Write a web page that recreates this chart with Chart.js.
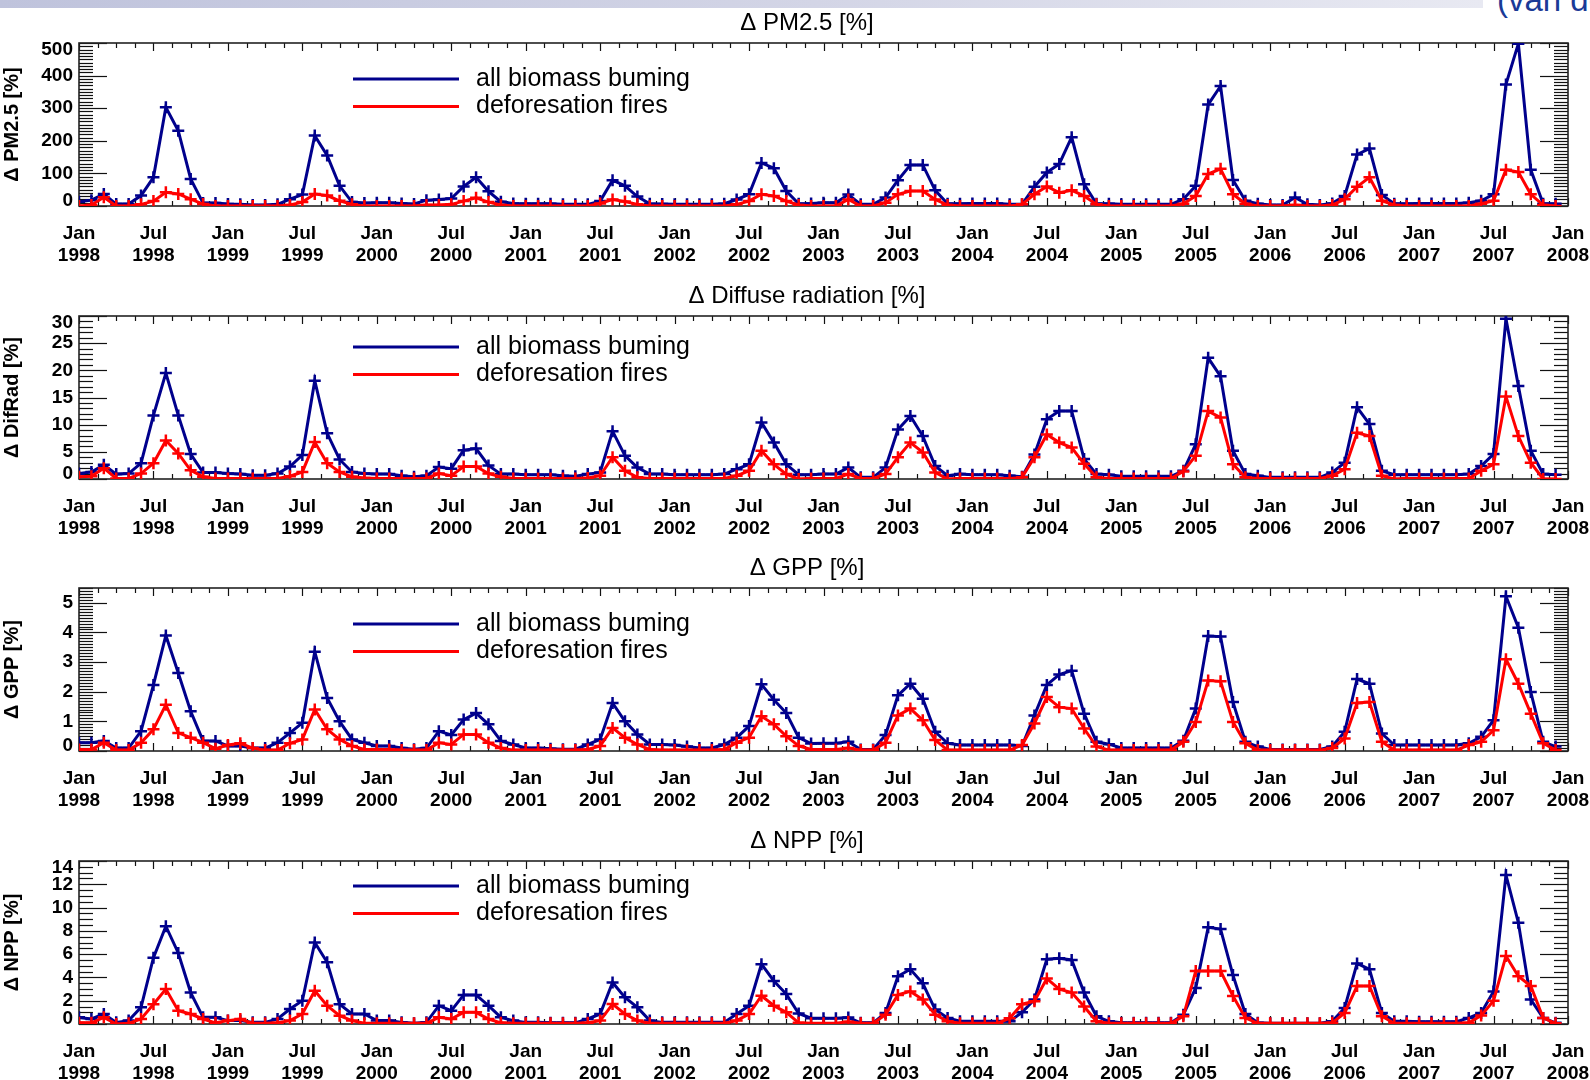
<!DOCTYPE html>
<html>
<head>
<meta charset="utf-8">
<script src="https://cdn.jsdelivr.net/npm/chart.js@4.4.1/dist/chart.umd.min.js"></script>
<style>
  html, body { margin: 0; padding: 0; background: #fff; width: 1590px; height: 1080px; overflow: hidden; }
  .topbar { position: absolute; left: 0; top: 0; width: 1483px; height: 8px;
            background: linear-gradient(to right, #bfc3dc, #d3d5e6 55%, #e8e9f2); }
  .cite { position: absolute; left: 1497px; top: -19px; font: 33px "Liberation Sans", Arial, sans-serif;
          color: #1a3a96; white-space: nowrap; }
  canvas { position: absolute; left: 0; }
</style>
</head>
<body>
<div class="topbar"></div>
<div class="cite">(van der Werf et al.)</div>
<canvas id="pm25" width="1590" height="273" style="top:0px"></canvas>
<canvas id="difrad" width="1590" height="273" style="top:273px"></canvas>
<canvas id="gpp" width="1590" height="273" style="top:545px"></canvas>
<canvas id="npp" width="1590" height="273" style="top:818px"></canvas>
<script>
// monthly values, Jan 1998 .. Dec 2007 (one row per year)
const firstYear = 1998;
const tickMonthNames = ['Jan', 'Jul'];
const seriesNames = ['all biomass buming', 'deforesation fires'];

const pm25All = [
  13, 18, 37, 6, 6, 32, 88, 303, 231, 83, 9, 9,
  6, 5, 3, 3, 5, 21, 35, 216, 155, 62, 12, 9,
  10, 10, 8, 6, 18, 20, 23, 60, 88, 45, 13, 8,
  7, 7, 7, 5, 5, 5, 15, 79, 62, 29, 7, 6,
  5, 5, 5, 5, 7, 20, 36, 132, 116, 46, 7, 8,
  10, 10, 35, 5, 5, 26, 79, 126, 126, 48, 7, 7,
  8, 8, 8, 5, 5, 59, 103, 129, 211, 67, 7, 7,
  5, 5, 5, 5, 5, 21, 62, 311, 368, 80, 16, 7,
  3, 3, 26, 5, 3, 8, 31, 158, 176, 34, 7, 7,
  8, 8, 8, 8, 10, 16, 36, 373, 498, 111, 7, 7
];
const pm25Defor = [
  0, 3, 27, 0, 0, 5, 15, 42, 37, 21, 6, 0,
  0, 0, 0, 0, 0, 3, 12, 37, 32, 16, 5, 0,
  0, 0, 0, 0, 3, 3, 5, 15, 25, 12, 3, 0,
  0, 0, 0, 0, 0, 0, 8, 20, 14, 5, 0, 0,
  0, 0, 0, 0, 0, 5, 15, 36, 31, 15, 3, 0,
  0, 0, 20, 0, 0, 10, 36, 46, 46, 20, 3, 0,
  0, 0, 0, 0, 5, 36, 60, 41, 48, 31, 5, 0,
  0, 0, 0, 0, 0, 7, 31, 98, 114, 36, 7, 0,
  0, 0, 3, 0, 0, 3, 21, 59, 88, 16, 3, 0,
  0, 0, 0, 0, 0, 7, 16, 111, 104, 36, 3, 0
];

const difRadAll = [
  1.0, 1.3, 2.6, 0.9, 1.0, 2.9, 11.7, 19.5, 11.7, 4.6, 1.2, 1.2,
  1.0, 0.9, 0.7, 0.7, 1.0, 2.3, 4.4, 18.1, 8.4, 3.6, 1.3, 1.0,
  0.9, 0.9, 0.6, 0.4, 0.6, 2.2, 1.9, 5.3, 5.6, 2.5, 0.9, 0.9,
  0.8, 0.8, 0.8, 0.6, 0.5, 0.9, 1.2, 8.8, 4.3, 2.1, 0.9, 0.9,
  0.8, 0.8, 0.8, 0.8, 0.9, 1.8, 2.7, 10.4, 6.7, 2.7, 0.8, 0.8,
  0.9, 0.9, 2.1, 0.3, 0.3, 2.1, 9.1, 11.6, 7.9, 2.4, 0.6, 0.9,
  0.8, 0.8, 0.8, 0.6, 0.4, 4.5, 11.0, 12.5, 12.5, 3.7, 0.9, 0.8,
  0.5, 0.5, 0.5, 0.5, 0.5, 1.5, 6.4, 22.3, 18.9, 5.2, 0.9, 0.6,
  0.3, 0.3, 0.3, 0.3, 0.3, 1.2, 3.0, 13.2, 10.1, 1.5, 0.8, 0.8,
  0.8, 0.8, 0.8, 0.8, 0.9, 2.4, 4.6, 29.5, 17.1, 5.2, 0.9, 0.8
];
const difRadDefor = [
  0.4, 0.5, 2.0, 0.1, 0.1, 1.0, 2.9, 7.1, 4.7, 1.6, 0.4, 0.1,
  0.1, 0.1, 0.1, 0.1, 0.1, 0.5, 1.3, 6.8, 2.9, 1.3, 0.4, 0.2,
  0.1, 0.1, 0.1, 0.1, 0.1, 1.0, 0.6, 2.3, 2.3, 1.0, 0.4, 0.1,
  0.1, 0.1, 0.1, 0.1, 0.1, 0.2, 0.6, 4.0, 1.5, 0.3, 0.1, 0.1,
  0.1, 0.1, 0.1, 0.1, 0.1, 0.6, 1.5, 5.2, 2.7, 0.9, 0.0, 0.1,
  0.1, 0.1, 0.9, 0.1, 0.1, 0.9, 4.0, 6.7, 4.9, 1.2, 0.0, 0.1,
  0.1, 0.1, 0.1, 0.1, 0.3, 4.0, 8.2, 6.7, 5.8, 2.8, 0.3, 0.1,
  0.1, 0.1, 0.1, 0.1, 0.1, 1.4, 4.3, 12.5, 11.3, 2.7, 0.3, 0.1,
  0.1, 0.1, 0.1, 0.1, 0.1, 0.6, 1.8, 8.5, 7.9, 0.6, 0.0, 0.1,
  0.1, 0.1, 0.1, 0.1, 0.1, 1.5, 2.7, 15.2, 7.9, 3.0, 0.0, 0.0
];

const gppAll = [
  0.28, 0.28, 0.34, 0.10, 0.10, 0.67, 2.23, 3.90, 2.63, 1.34, 0.34, 0.34,
  0.17, 0.17, 0.10, 0.10, 0.28, 0.61, 0.95, 3.35, 1.79, 1.00, 0.39, 0.28,
  0.17, 0.17, 0.10, 0.06, 0.10, 0.67, 0.54, 1.06, 1.28, 0.90, 0.34, 0.22,
  0.10, 0.10, 0.08, 0.06, 0.06, 0.22, 0.39, 1.62, 1.00, 0.56, 0.22, 0.22,
  0.20, 0.15, 0.10, 0.10, 0.22, 0.45, 0.84, 2.25, 1.73, 1.28, 0.45, 0.25,
  0.26, 0.26, 0.31, 0.05, 0.05, 0.54, 1.88, 2.27, 1.76, 0.65, 0.26, 0.20,
  0.20, 0.20, 0.20, 0.20, 0.17, 1.20, 2.23, 2.58, 2.71, 1.26, 0.31, 0.23,
  0.10, 0.10, 0.10, 0.10, 0.10, 0.35, 1.43, 3.88, 3.86, 1.65, 0.31, 0.15,
  0.05, 0.05, 0.05, 0.05, 0.05, 0.15, 0.65, 2.43, 2.27, 0.59, 0.20, 0.20,
  0.20, 0.20, 0.20, 0.20, 0.26, 0.48, 1.04, 5.22, 4.16, 1.99, 0.31, 0.15
];
const gppDefor = [
  0.05, 0.05, 0.28, 0.03, 0.03, 0.28, 0.73, 1.56, 0.61, 0.45, 0.28, 0.08,
  0.20, 0.26, 0.10, 0.03, 0.03, 0.26, 0.39, 1.40, 0.73, 0.39, 0.17, 0.05,
  0.05, 0.05, 0.03, 0.03, 0.03, 0.28, 0.22, 0.56, 0.56, 0.28, 0.10, 0.03,
  0.03, 0.03, 0.03, 0.03, 0.03, 0.05, 0.17, 0.78, 0.45, 0.22, 0.05, 0.03,
  0.03, 0.03, 0.03, 0.03, 0.05, 0.28, 0.45, 1.17, 0.90, 0.50, 0.17, 0.05,
  0.05, 0.05, 0.10, 0.03, 0.03, 0.28, 1.20, 1.43, 1.04, 0.37, 0.03, 0.03,
  0.03, 0.03, 0.03, 0.03, 0.20, 0.93, 1.82, 1.48, 1.43, 0.76, 0.15, 0.03,
  0.03, 0.03, 0.03, 0.03, 0.03, 0.31, 0.98, 2.38, 2.35, 0.98, 0.26, 0.03,
  0.03, 0.03, 0.03, 0.03, 0.03, 0.10, 0.42, 1.62, 1.65, 0.31, 0.03, 0.03,
  0.03, 0.03, 0.03, 0.03, 0.20, 0.31, 0.70, 3.10, 2.27, 1.26, 0.26, 0.03
];

const nppAll = [
  0.57, 0.43, 0.86, 0.14, 0.29, 1.43, 5.70, 8.40, 6.10, 2.70, 0.57, 0.57,
  0.29, 0.29, 0.14, 0.14, 0.43, 1.29, 2.00, 7.00, 5.30, 1.70, 0.86, 0.86,
  0.29, 0.29, 0.14, 0.06, 0.14, 1.57, 1.14, 2.50, 2.50, 1.57, 0.57, 0.29,
  0.14, 0.14, 0.10, 0.10, 0.10, 0.43, 0.86, 3.57, 2.29, 1.43, 0.29, 0.14,
  0.14, 0.14, 0.14, 0.14, 0.14, 0.86, 1.57, 5.14, 3.70, 2.57, 0.90, 0.50,
  0.50, 0.50, 0.55, 0.10, 0.10, 0.95, 4.10, 4.70, 3.50, 1.24, 0.52, 0.23,
  0.23, 0.23, 0.23, 0.23, 1.00, 2.10, 5.56, 5.65, 5.50, 2.70, 0.66, 0.23,
  0.10, 0.10, 0.10, 0.10, 0.10, 0.80, 3.10, 8.30, 8.15, 4.20, 0.86, 0.10,
  0.06, 0.06, 0.06, 0.06, 0.06, 0.23, 1.38, 5.20, 4.70, 0.95, 0.23, 0.23,
  0.20, 0.20, 0.20, 0.20, 0.52, 0.95, 2.80, 12.80, 8.70, 2.10, 0.52, 0.10
];
const nppDefor = [
  0.10, 0.10, 0.57, 0.00, 0.06, 0.43, 1.70, 3.00, 1.14, 0.86, 0.43, 0.10,
  0.29, 0.43, 0.06, 0.06, 0.10, 0.29, 0.86, 2.86, 1.57, 0.71, 0.29, 0.06,
  0.06, 0.06, 0.06, 0.06, 0.06, 0.57, 0.43, 1.00, 1.00, 0.43, 0.10, 0.06,
  0.06, 0.06, 0.06, 0.06, 0.06, 0.10, 0.29, 1.71, 0.86, 0.29, 0.06, 0.06,
  0.06, 0.06, 0.06, 0.06, 0.06, 0.29, 0.86, 2.43, 1.57, 1.00, 0.10, 0.06,
  0.06, 0.06, 0.20, 0.06, 0.06, 0.80, 2.50, 2.80, 2.10, 0.80, 0.23, 0.06,
  0.06, 0.06, 0.06, 0.50, 1.70, 1.95, 3.90, 3.00, 2.70, 1.50, 0.23, 0.06,
  0.06, 0.06, 0.06, 0.06, 0.06, 0.66, 4.55, 4.55, 4.55, 2.40, 0.52, 0.06,
  0.06, 0.06, 0.06, 0.06, 0.06, 0.10, 0.95, 3.26, 3.26, 0.66, 0.06, 0.06,
  0.06, 0.06, 0.06, 0.06, 0.10, 0.72, 2.00, 5.85, 4.10, 3.26, 0.52, 0.06
];

// axis ranges and tick spacing per panel
const panels = [
  { id: 'pm25',   title: '\u0394 PM2.5 [%]',             yTitle: '\u0394 PM2.5 [%]',   all: pm25All,   defor: pm25Defor,   max: 500, major: 100, minor: 10,  legendDy: 36 },
  { id: 'difrad', title: '\u0394 Diffuse radiation [%]', yTitle: '\u0394 DifRad [%]',  all: difRadAll, defor: difRadDefor, max: 30,  major: 5,   minor: 1,   legendDy: 31 },
  { id: 'gpp',    title: '\u0394 GPP [%]',               yTitle: '\u0394 GPP [%]',     all: gppAll,    defor: gppDefor,    max: 5.5, major: 1,   minor: 0.1, legendDy: 36 },
  { id: 'npp',    title: '\u0394 NPP [%]',               yTitle: '\u0394 NPP [%]',     all: nppAll,    defor: nppDefor,    max: 14,  major: 2,   minor: 0.5, legendDy: 25 }
];

const FONT = '"Liberation Sans", Arial, Helvetica, sans-serif';
const BLUE = '#00008c';
const RED = '#ff0000';

const toPoints = arr => arr.map((v, i) => ({ x: i, y: v }));

// IDL-style box axes: dense minor comb, ticks on all four sides, labels, legend
const idlAxes = {
  id: 'idlAxes',
  beforeDatasetsDraw(chart, args, o) {
    const { ctx, chartArea: a, scales: { x, y } } = chart;
    ctx.save();
    ctx.strokeStyle = '#111';
    ctx.lineWidth = 1.2;
    const seg = (x1, y1, x2, y2) => { ctx.beginPath(); ctx.moveTo(x1, y1); ctx.lineTo(x2, y2); ctx.stroke(); };

    const n = Math.round(o.max / o.minor);
    for (let k = 0; k <= n; k++) {
      const v = k * o.minor;
      const py = Math.round(y.getPixelForValue(v)) + 0.5;
      const r = v / o.major;
      const len = Math.abs(r - Math.round(r)) < 1e-6 ? 28 : 14;
      seg(a.left, py, a.left + len, py);
      seg(a.right - len, py, a.right, py);
    }
    for (let m = 0; m <= 120.001; m += 1.5) {
      const px = Math.round(x.getPixelForValue(m)) + 0.5;
      const len = (m % 6 === 0) ? 8 : 5;
      seg(px, a.bottom, px, a.bottom - len);
      seg(px, a.top, px, a.top + len);
    }
    ctx.lineWidth = 1.6;
    ctx.strokeStyle = '#222';
    ctx.strokeRect(a.left, a.top, a.right - a.left, a.bottom - a.top);
    ctx.restore();
  },
  afterDraw(chart, args, o) {
    const { ctx, chartArea: a, scales: { y } } = chart;
    ctx.save();
    ctx.fillStyle = '#000';

    // y tick labels
    ctx.font = 'bold 19px ' + FONT;
    ctx.textAlign = 'right';
    ctx.textBaseline = 'middle';
    for (let v = 0; v <= o.max + 1e-6; v += o.major) {
      let py = y.getPixelForValue(v);
      if (v === 0) py -= 5;
      if (Math.abs(v - o.max) < 1e-6) py += 7;
      ctx.fillText(String(Math.round(v * 10) / 10), a.left - 6, py);
    }

    // y axis title
    ctx.save();
    ctx.translate(12, (a.top + a.bottom) / 2);
    ctx.rotate(-Math.PI / 2);
    ctx.textAlign = 'center';
    ctx.font = 'bold 20px ' + FONT;
    ctx.fillText(o.yTitle, 0, 0);
    ctx.restore();

    // panel title
    ctx.font = '24px ' + FONT;
    ctx.textAlign = 'center';
    ctx.fillText(o.title, 807, a.top - 20);

    // legend
    const ly = a.top + o.legendDy;
    [BLUE, RED].forEach((c, i) => {
      const yy = ly + i * 27.5;
      ctx.strokeStyle = c;
      ctx.lineWidth = 3;
      ctx.beginPath(); ctx.moveTo(353, yy); ctx.lineTo(459, yy); ctx.stroke();
      ctx.font = '25px ' + FONT;
      ctx.textAlign = 'left';
      ctx.fillText(seriesNames[i], 476, yy);
    });
    ctx.restore();
  }
};

panels.forEach(p => {
  new Chart(document.getElementById(p.id), {
    type: 'line',
    data: {
      datasets: [
        {
          label: seriesNames[1], data: toPoints(p.defor), order: 0,
          borderColor: RED, borderWidth: 3, tension: 0,
          pointStyle: 'cross', pointRadius: 6, pointBorderWidth: 2.5, pointBorderColor: RED
        },
        {
          label: seriesNames[0], data: toPoints(p.all), order: 1,
          borderColor: BLUE, borderWidth: 3, tension: 0,
          pointStyle: 'cross', pointRadius: 6, pointBorderWidth: 2.5, pointBorderColor: BLUE
        }
      ]
    },
    options: {
      responsive: false,
      animation: false,
      events: [],
      layout: { padding: { left: 79, right: 22, top: 43, bottom: 0 } },
      scales: {
        x: {
          type: 'linear', min: 0, max: 120,
          grid: { display: false, drawTicks: false },
          border: { display: false },
          afterFit: s => { s.height = 67; s.paddingLeft = 0; s.paddingRight = 0; },
          ticks: {
            stepSize: 6, autoSkip: false, maxRotation: 0, padding: 16,
            color: '#000', font: { family: FONT, size: 19, weight: 'bold', lineHeight: 1.2 },
            callback: v => [tickMonthNames[(v / 6) % 2], String(firstYear + Math.floor(v / 12))]
          }
        },
        y: { display: false, min: 0, max: p.max }
      },
      plugins: {
        legend: { display: false },
        tooltip: { enabled: false },
        idlAxes: { max: p.max, major: p.major, minor: p.minor, title: p.title, yTitle: p.yTitle, legendDy: p.legendDy }
      }
    },
    plugins: [idlAxes]
  });
});
</script>
</body>
</html>
